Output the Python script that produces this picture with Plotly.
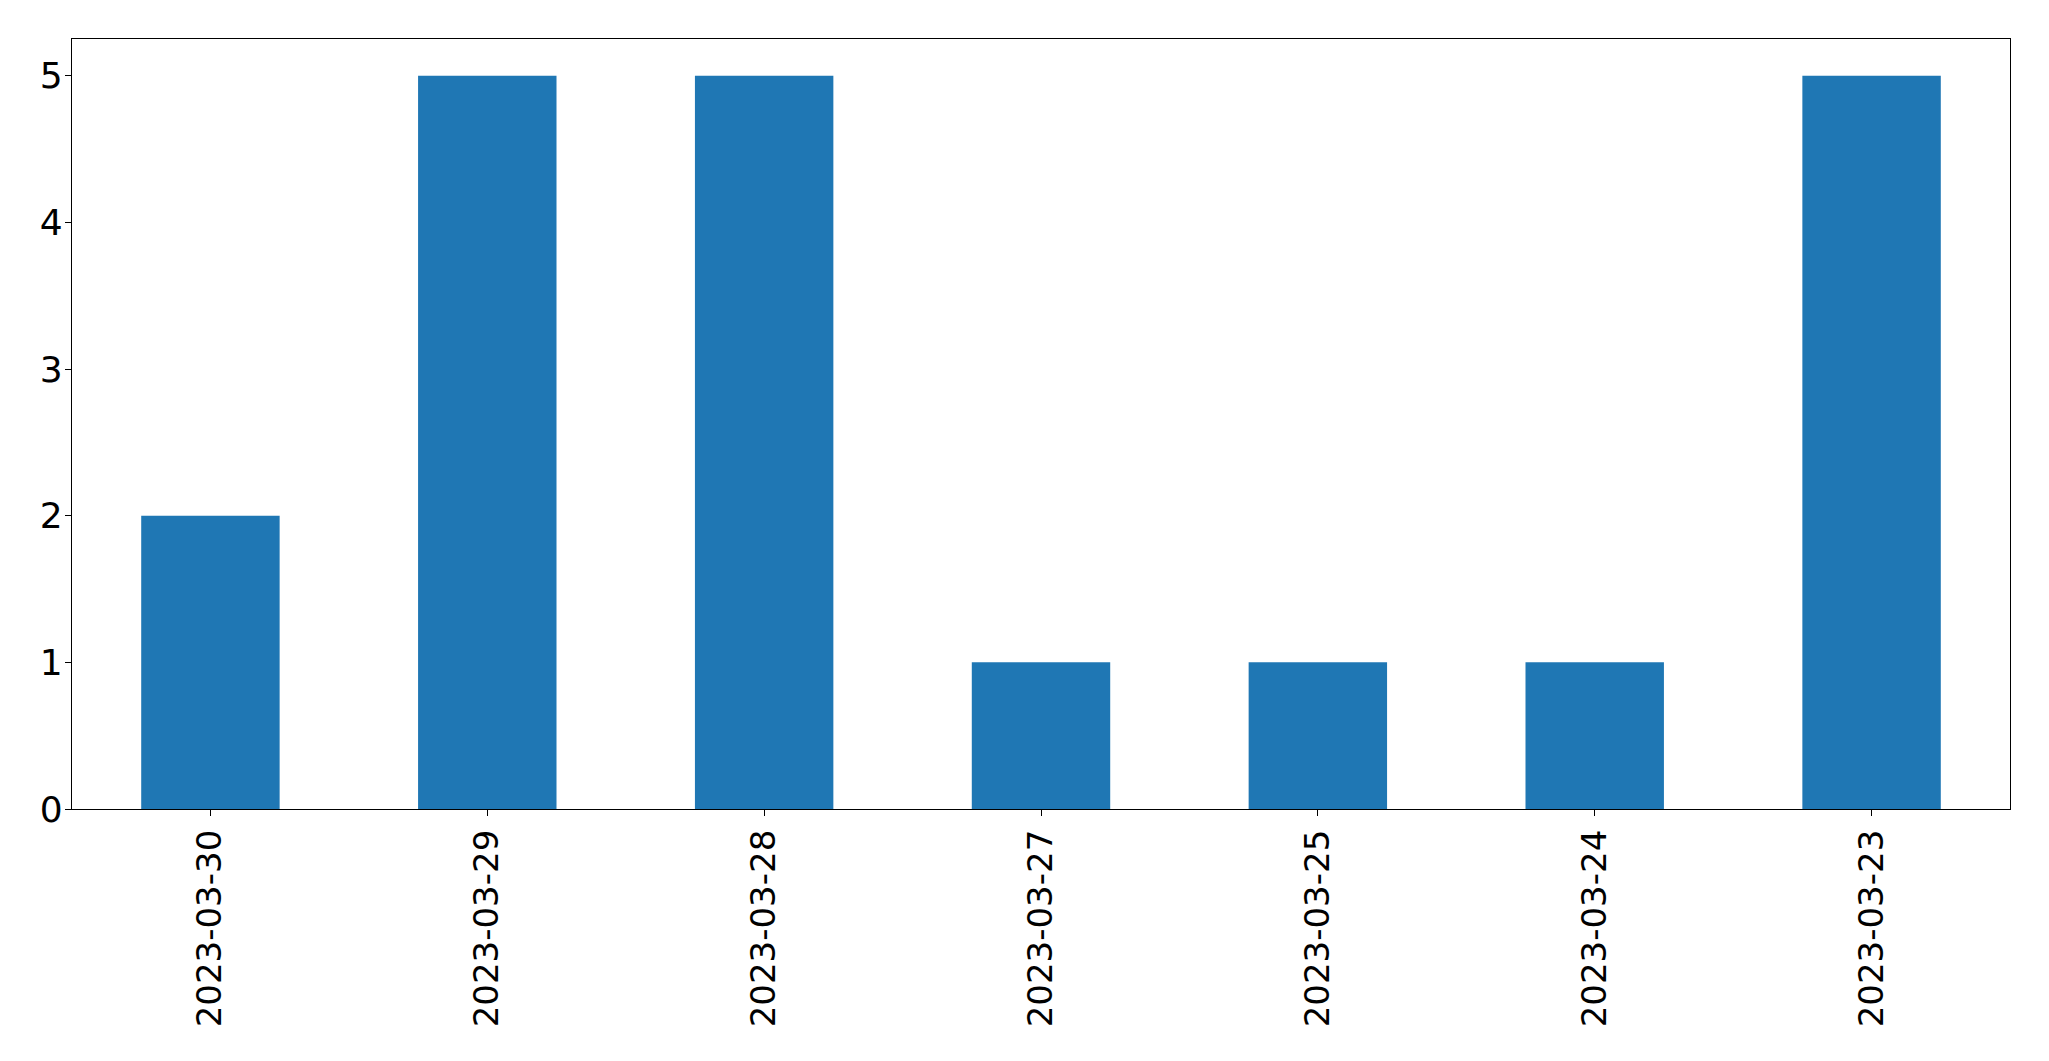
import plotly.graph_objects as go

categories = ["2023-03-30", "2023-03-29", "2023-03-28", "2023-03-27",
              "2023-03-25", "2023-03-24", "2023-03-23"]
counts = [2, 5, 5, 1, 1, 1, 5]
y_ticks = [0, 1, 2, 3, 4, 5]

fig = go.Figure(go.Bar(x=categories, y=counts, marker_color="#1f77b4",
                       marker_line_width=0, width=0.5))

# page body has an 8px default margin, so the figure is offset by 8px
fig.update_layout(
    width=2041, height=1053,
    margin=dict(l=64, r=39, t=31, b=252, autoexpand=False),
    paper_bgcolor="white", plot_bgcolor="white",
    font=dict(family="DejaVu Sans", size=34, color="black"),
    showlegend=False,
    bargap=0.5,
)
fig.update_xaxes(type="category", range=[-0.5, 6.5], tickangle=-90,
                 automargin=False,
                 showline=True, mirror=True, linecolor="black", linewidth=1.3,
                 ticks="outside", ticklen=6, tickcolor="black", showgrid=False,
                 tickfont=dict(size=34))
fig.update_yaxes(range=[0, 5.25], tickvals=y_ticks, automargin=False,
                 showline=True, mirror=True, linecolor="black", linewidth=1.3,
                 ticks="outside", ticklen=6, tickcolor="black", showgrid=False,
                 zeroline=False, tickfont=dict(size=36), ticklabelstandoff=-5)

fig.write_html("out.html")
